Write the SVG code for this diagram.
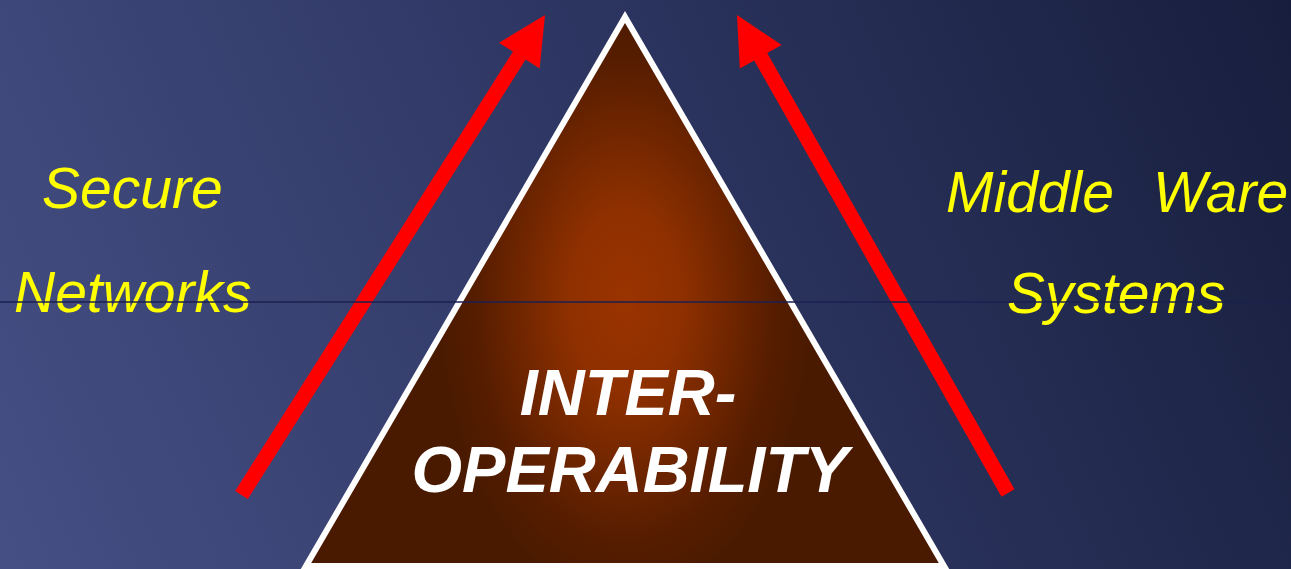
<svg xmlns="http://www.w3.org/2000/svg" width="1291" height="569" viewBox="0 0 1291 569">
  <defs>
    <linearGradient id="bg" gradientUnits="userSpaceOnUse" x1="0" y1="569" x2="1291" y2="0">
      <stop offset="0" stop-color="#454f84"/>
      <stop offset="0.5" stop-color="#2e3763"/>
      <stop offset="1" stop-color="#171e3d"/>
    </linearGradient>
    <radialGradient id="tri" gradientUnits="userSpaceOnUse" cx="625" cy="300" r="300" gradientTransform="translate(625 300) scale(0.62 1) translate(-625 -300)">
      <stop offset="0" stop-color="#9a3300"/>
      <stop offset="0.3" stop-color="#8f3000"/>
      <stop offset="0.8" stop-color="#561d00"/>
      <stop offset="1" stop-color="#4a1a00"/>
    </radialGradient>
  </defs>
  <style>
    .side { font-family: "Liberation Sans", Arial, sans-serif; font-style: italic; font-size: 57px; fill: #ffff00; }
    .core { font-family: "Liberation Sans", Arial, sans-serif; font-style: italic; font-weight: bold; font-size: 65px; fill: #ffffff; text-anchor: middle; }
    .arrow { fill: #ff0000; }
  </style>
  <rect x="0" y="0" width="1291" height="569" fill="url(#bg)"/>

  <g id="pyramid">
    <path d="M625,17 L306,566 L944,566 Z" fill="url(#tri)" stroke="#ffffff" stroke-width="6" stroke-linejoin="miter"/>
    <text class="core" x="628" y="415">INTER-</text>
    <text class="core" x="630" y="492">OPERABILITY</text>
  </g>

  <g id="connectors">
    <polygon class="arrow" points="545,15 539.6,68.4 525.6,59.6 247.8,499 235.2,491 513,51.6 499,42.8"/>
    <polygon class="arrow" points="737,15 739.8,68.6 754.2,60.5 1001.5,496.7 1014.5,489.3 767.2,53.1 781.6,45"/>
  </g>

  <g id="secure-networks">
    <text class="side" x="42" y="208">Secure</text>
    <text class="side" x="14" y="312">Networks</text>
  </g>

  <g id="middleware-systems">
    <text class="side" y="212"><tspan x="946">Middle</tspan> <tspan x="1153">Ware</tspan></text>
    <text class="side" x="1007" y="313">Systems</text>
  </g>

  <line x1="0" y1="302" x2="1291" y2="302" stroke="#1b2050" stroke-width="1.5"/>
</svg>
